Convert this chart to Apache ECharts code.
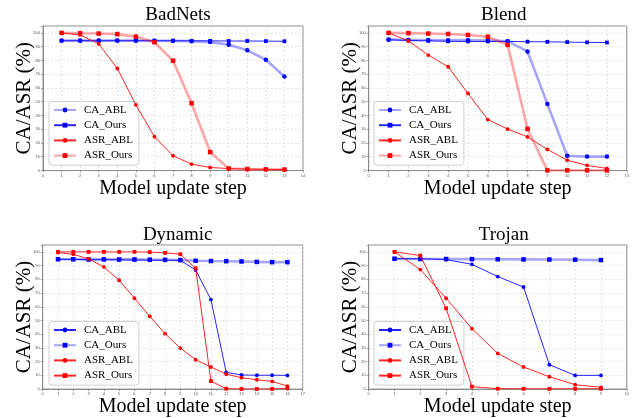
<!DOCTYPE html>
<html><head><meta charset="utf-8">
<script src="https://cdn.jsdelivr.net/npm/echarts@6/dist/echarts.min.js"></script>
<style>html,body{margin:0;padding:0;background:#fff}#c{width:632px;height:418px}</style>
</head><body><div id="c"></div>
<script>
// ---- data ----
var panelTitles = ['BadNets', 'Blend', 'Dynamic', 'Trojan'];
var seriesNames = ['CA_ABL', 'CA_Ours', 'ASR_ABL', 'ASR_Ours'];
var xMaxTicks = [14, 13, 17, 10];
var yTicks = [0, 10, 20, 30, 40, 50, 60, 70, 80, 90, 100];

var badnetsSteps = [1,2,3,4,5,6,7,8,9,10,11,12,13];
var badnetsCA_ABL  = [94.4,94.4,94.4,94.4,94.4,94.3,94.2,94.0,93.3,91.4,87.3,80.5,68.3];
var badnetsCA_Ours = [94.3,94.3,94.3,94.3,94.3,94.3,94.3,94.2,94.2,94.1,94.1,94.0,93.9];
var badnetsASR_ABL = [100,98.5,92.0,74.2,47.7,24.6,10.7,4.6,2.2,1.4,1.0,0.8,0.7];
var badnetsASR_Ours= [100,99.7,99.5,99.1,97.3,93.2,79.8,48.9,13.4,1.5,1.0,0.8,0.7];

var blendSteps = [1,2,3,4,5,6,7,8,9,10,11,12];
var blendCA_ABL  = [95.1,94.9,94.8,94.7,94.7,94.5,94.0,86.5,48.4,10.7,10.1,10.1];
var blendCA_Ours = [95.0,94.5,94.2,93.9,93.8,93.8,93.8,93.6,93.5,93.3,93.1,93.0];
var blendASR_ABL = [100,94.2,83.9,75.4,56.0,37.0,30.1,24.4,15.3,7.5,3.7,1.5];
var blendASR_Ours= [100,99.8,99.5,99.2,98.5,97.2,91.3,30.2,0.1,0.1,0.1,0.1];

var dynamicSteps = [1,2,3,4,5,6,7,8,9,10,11,12,13,14,15,16];
var dynamicCA_ABL  = [94.6,94.5,94.3,94.3,94.2,94.0,94.0,93.9,93.8,86.8,65.2,12.2,10.3,10.1,10.1,10.0];
var dynamicCA_Ours = [94.6,94.6,94.5,94.5,94.5,94.5,94.3,94.2,94.0,93.5,93.3,93.2,93.0,92.7,92.5,92.5];
var dynamicASR_ABL = [99.5,98.2,94.9,89.0,79.3,66.2,53.0,40.4,29.9,21.4,16.1,10.9,8.3,6.8,5.6,2.2];
var dynamicASR_Ours= [100,100,100,100,100,100,99.8,99.3,98.3,88.0,5.8,0.3,0.1,0.1,0.1,0.6];

var trojanSteps = [1,2,3,4,5,6,7,8,9];
var trojanCA_ABL  = [95.0,95.0,94.4,90.9,82.0,74.4,17.8,10.0,10.0];
var trojanCA_Ours = [95.0,94.8,94.8,94.7,94.6,94.5,94.4,94.3,94.0];
var trojanASR_ABL = [100,87.1,66.2,44.0,26.0,16.1,9.0,3.2,1.3];
var trojanASR_Ours= [100,97.3,58.9,1.8,0.3,0.2,0.2,0.2,0.2];

var panelSteps = [badnetsSteps, blendSteps, dynamicSteps, trojanSteps];
var panelValues = [
  [badnetsCA_ABL, badnetsCA_Ours, badnetsASR_ABL, badnetsASR_Ours],
  [blendCA_ABL, blendCA_Ours, blendASR_ABL, blendASR_Ours],
  [dynamicCA_ABL, dynamicCA_Ours, dynamicASR_ABL, dynamicASR_Ours],
  [trojanCA_ABL, trojanCA_Ours, trojanASR_ABL, trojanASR_Ours]
];

// ---- styles ----
var thickFlags = [
  [true, false, false, true],
  [true, false, false, true],
  [false, true, false, false],
  [false, true, false, false]
];
var serColors = ['#0000ff', '#0000ff', '#ff0000', '#ff0000'];
var serSymbols = ['circle', 'rect', 'circle', 'rect'];
var grids = [
  {left: 43, top: 26, width: 260, height: 144.5},
  {left: 368.7, top: 26, width: 260, height: 144.5},
  {left: 42.7, top: 245, width: 260, height: 144.5},
  {left: 368.7, top: 245, width: 260, height: 144.5}
];
var legendPos = [
  {left: 49, top: 101.5},
  {left: 374, top: 101.5},
  {left: 49, top: 321.5},
  {left: 374, top: 321.5}
];
var titlePos = [{top: 1}, {top: 1}, {top: 221}, {top: 221}];
var serif = 'Liberation Serif, Times New Roman, serif';

var option = {
  animation: false,
  backgroundColor: '#fff',
  title: [], grid: [], xAxis: [], yAxis: [], legend: [], series: []
};

for (var p = 0; p < 4; p++) {
  var g = grids[p];
  option.grid.push({left: g.left, top: g.top, width: g.width, height: g.height,
    show: true, borderColor: '#8c8c8c', borderWidth: 1, backgroundColor: 'transparent'});
  option.title.push({text: panelTitles[p], left: g.left + g.width / 2, textAlign: 'center',
    top: titlePos[p].top,
    textStyle: {fontFamily: serif, fontSize: 19, fontWeight: 'normal', color: '#000'}});
  option.xAxis.push({type: 'value', gridIndex: p, min: 0, max: xMaxTicks[p], interval: 1,
    name: 'Model update step', nameLocation: 'middle', nameGap: 7,
    nameTextStyle: {fontFamily: serif, fontSize: 20, color: '#000'},
    axisLine: {show: true, lineStyle: {color: '#8c8c8c', width: 1}},
    axisTick: {show: true, length: 2, lineStyle: {color: '#666', width: 0.6}},
    axisLabel: {fontSize: 4, color: '#555', margin: 3},
    splitLine: {show: true, lineStyle: {color: '#d4d4d4', type: [2, 2], width: 0.6}}});
  option.yAxis.push({type: 'value', gridIndex: p, min: 0, max: 105, interval: 10,
    name: 'CA/ASR (%)', nameLocation: 'middle', nameGap: 8, nameRotate: 90,
    nameMoveOverlap: false,
    nameTextStyle: {fontFamily: serif, fontSize: 21, color: '#000'},
    axisLine: {show: true, lineStyle: {color: '#8c8c8c', width: 1}},
    axisTick: {show: true, length: 2, lineStyle: {color: '#666', width: 0.6}},
    axisLabel: {fontSize: 4, color: '#555', margin: 3,
      formatter: function (v) { return yTicks.indexOf(v) >= 0 ? String(v) : ''; }},
    splitLine: {show: true, lineStyle: {color: '#d4d4d4', type: [2, 2], width: 0.6}}});
  var legendNames = [];
  for (var s = 0; s < 4; s++) {
    var thick = thickFlags[p][s];
    var pts = panelSteps[p].map(function (x, i) { return [x, this[i]]; }, panelValues[p][s]);
    var nm = seriesNames[s] + '|' + p;
    legendNames.push(nm);
    option.series.push({
      type: 'line', name: nm, xAxisIndex: p, yAxisIndex: p, data: pts,
      symbol: serSymbols[s], symbolSize: thick ? 4.5 : 3.8,
      lineStyle: {color: serColors[s], width: thick ? 2.6 : 1, opacity: thick ? 0.35 : 0.85},
      itemStyle: {color: serColors[s], opacity: 1},
      emphasis: {disabled: true}, z: 2 + s
    });
  }
  option.legend.push({
    data: legendNames, orient: 'vertical', left: legendPos[p].left, top: legendPos[p].top,
    formatter: function (n) { return n.split('|')[0]; },
    itemWidth: 22, itemHeight: 6, itemGap: 4.2,
    padding: [3, 6, 4, 4],
    backgroundColor: 'rgba(255,255,255,0.85)', borderColor: '#d0d0d0', borderWidth: 1, borderRadius: 3,
    textStyle: {fontFamily: serif, fontSize: 11, color: '#000', padding: [0, 0, 0, 3]},
    selectedMode: false
  });
}

var chart = echarts.init(document.getElementById('c'), null, {renderer: 'canvas'});
chart.setOption(option);
</script></body></html>
